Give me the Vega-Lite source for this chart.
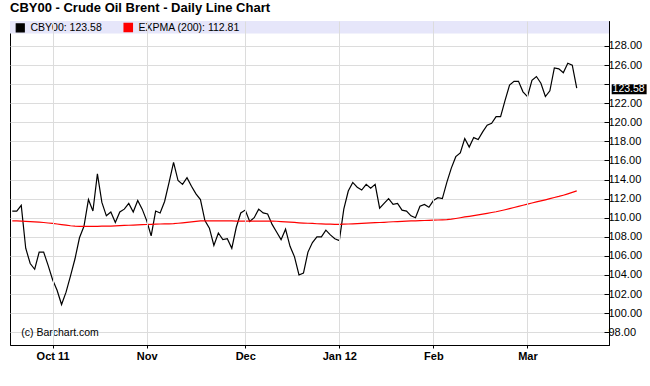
{
  "$schema": "https://vega.github.io/schema/vega-lite/v6.json",
  "width": 599,
  "height": 324,
  "autosize": {"type": "none"},
  "padding": {"left": 10, "top": 21, "right": 41, "bottom": 41},
  "background": "white",
  "title": {"text": "CBY00 - Crude Oil Brent - Daily Line Chart", "anchor": "start", "frame": "group", "fontSize": 13, "fontWeight": "bold", "font": "Liberation Sans", "color": "black", "offset": 7, "baseline": "alphabetic", "dy": 11},
  "config": {
    "view": {"stroke": "black", "strokeWidth": 1},
    "axis": {"gridColor": "#dcdcdc", "domainColor": "black", "tickColor": "black", "labelColor": "black", "labelFont": "Liberation Sans", "title": null}
  },
  "layer": [
    {
      "data": {"values": [{}]},
      "mark": {"type": "rect", "color": "#e6e6fa"},
      "encoding": {
        "x": {"datum": 0.49, "type": "quantitative"},
        "x2": {"datum": 134.2},
        "y": {"datum": 129.3, "type": "quantitative"},
        "y2": {"datum": 130.62}
      }
    },
    {
      "data": {"values": [
        {"date": "2011-09-20", "close": 110.7, "ema": 109.68},
        {"date": "2011-09-21", "close": 110.7, "ema": 109.66},
        {"date": "2011-09-22", "close": 111.3, "ema": 109.64},
        {"date": "2011-09-23", "close": 106.8, "ema": 109.62},
        {"date": "2011-09-26", "close": 105.2, "ema": 109.6},
        {"date": "2011-09-27", "close": 104.6, "ema": 109.57},
        {"date": "2011-09-28", "close": 106.4, "ema": 109.54},
        {"date": "2011-09-29", "close": 106.4, "ema": 109.5},
        {"date": "2011-09-30", "close": 105.0, "ema": 109.45},
        {"date": "2011-10-03", "close": 103.5, "ema": 109.4},
        {"date": "2011-10-04", "close": 102.4, "ema": 109.34},
        {"date": "2011-10-05", "close": 100.9, "ema": 109.28},
        {"date": "2011-10-06", "close": 102.2, "ema": 109.22},
        {"date": "2011-10-07", "close": 103.9, "ema": 109.16},
        {"date": "2011-10-10", "close": 105.7, "ema": 109.12},
        {"date": "2011-10-11", "close": 107.9, "ema": 109.1},
        {"date": "2011-10-12", "close": 109.1, "ema": 109.09},
        {"date": "2011-10-13", "close": 111.9, "ema": 109.09},
        {"date": "2011-10-14", "close": 110.7, "ema": 109.09},
        {"date": "2011-10-17", "close": 114.6, "ema": 109.1},
        {"date": "2011-10-18", "close": 111.6, "ema": 109.11},
        {"date": "2011-10-19", "close": 110.2, "ema": 109.12},
        {"date": "2011-10-20", "close": 110.6, "ema": 109.13},
        {"date": "2011-10-21", "close": 109.5, "ema": 109.15},
        {"date": "2011-10-24", "close": 110.6, "ema": 109.17},
        {"date": "2011-10-25", "close": 110.9, "ema": 109.19},
        {"date": "2011-10-26", "close": 111.5, "ema": 109.21},
        {"date": "2011-10-27", "close": 110.6, "ema": 109.23},
        {"date": "2011-10-28", "close": 111.8, "ema": 109.25},
        {"date": "2011-10-31", "close": 110.9, "ema": 109.27},
        {"date": "2011-11-01", "close": 109.7, "ema": 109.29},
        {"date": "2011-11-02", "close": 108.1, "ema": 109.3},
        {"date": "2011-11-03", "close": 110.7, "ema": 109.32},
        {"date": "2011-11-04", "close": 110.5, "ema": 109.34},
        {"date": "2011-11-07", "close": 111.7, "ema": 109.35},
        {"date": "2011-11-08", "close": 113.7, "ema": 109.36},
        {"date": "2011-11-09", "close": 115.8, "ema": 109.38},
        {"date": "2011-11-10", "close": 113.9, "ema": 109.42},
        {"date": "2011-11-11", "close": 113.5, "ema": 109.47},
        {"date": "2011-11-14", "close": 114.2, "ema": 109.52},
        {"date": "2011-11-15", "close": 113.3, "ema": 109.57},
        {"date": "2011-11-16", "close": 112.5, "ema": 109.62},
        {"date": "2011-11-17", "close": 111.9, "ema": 109.66},
        {"date": "2011-11-18", "close": 109.7, "ema": 109.68},
        {"date": "2011-11-21", "close": 108.9, "ema": 109.68},
        {"date": "2011-11-22", "close": 107.1, "ema": 109.68},
        {"date": "2011-11-23", "close": 108.4, "ema": 109.67},
        {"date": "2011-11-24", "close": 107.7, "ema": 109.67},
        {"date": "2011-11-25", "close": 107.8, "ema": 109.66},
        {"date": "2011-11-28", "close": 106.8, "ema": 109.66},
        {"date": "2011-11-29", "close": 109.0, "ema": 109.65},
        {"date": "2011-11-30", "close": 110.5, "ema": 109.65},
        {"date": "2011-12-01", "close": 110.8, "ema": 109.65},
        {"date": "2011-12-02", "close": 109.6, "ema": 109.65},
        {"date": "2011-12-05", "close": 110.0, "ema": 109.65},
        {"date": "2011-12-06", "close": 110.9, "ema": 109.65},
        {"date": "2011-12-07", "close": 110.5, "ema": 109.65},
        {"date": "2011-12-08", "close": 110.4, "ema": 109.65},
        {"date": "2011-12-09", "close": 109.3, "ema": 109.65},
        {"date": "2011-12-12", "close": 108.5, "ema": 109.63},
        {"date": "2011-12-13", "close": 107.7, "ema": 109.6},
        {"date": "2011-12-14", "close": 108.8, "ema": 109.57},
        {"date": "2011-12-15", "close": 107.0, "ema": 109.54},
        {"date": "2011-12-16", "close": 105.9, "ema": 109.51},
        {"date": "2011-12-19", "close": 104.0, "ema": 109.47},
        {"date": "2011-12-20", "close": 104.2, "ema": 109.44},
        {"date": "2011-12-21", "close": 106.4, "ema": 109.42},
        {"date": "2011-12-22", "close": 107.4, "ema": 109.4},
        {"date": "2011-12-23", "close": 108.0, "ema": 109.37},
        {"date": "2011-12-27", "close": 108.0, "ema": 109.35},
        {"date": "2011-12-28", "close": 108.7, "ema": 109.33},
        {"date": "2011-12-29", "close": 108.2, "ema": 109.32},
        {"date": "2011-12-30", "close": 107.8, "ema": 109.31},
        {"date": "2012-01-03", "close": 107.6, "ema": 109.31},
        {"date": "2012-01-04", "close": 110.9, "ema": 109.32},
        {"date": "2012-01-05", "close": 112.8, "ema": 109.34},
        {"date": "2012-01-06", "close": 113.7, "ema": 109.36},
        {"date": "2012-01-09", "close": 113.2, "ema": 109.38},
        {"date": "2012-01-10", "close": 112.9, "ema": 109.41},
        {"date": "2012-01-11", "close": 113.5, "ema": 109.43},
        {"date": "2012-01-12", "close": 113.1, "ema": 109.46},
        {"date": "2012-01-13", "close": 113.5, "ema": 109.48},
        {"date": "2012-01-16", "close": 111.0, "ema": 109.5},
        {"date": "2012-01-17", "close": 111.5, "ema": 109.52},
        {"date": "2012-01-18", "close": 112.0, "ema": 109.55},
        {"date": "2012-01-19", "close": 111.4, "ema": 109.58},
        {"date": "2012-01-20", "close": 111.5, "ema": 109.6},
        {"date": "2012-01-23", "close": 110.8, "ema": 109.62},
        {"date": "2012-01-24", "close": 110.7, "ema": 109.64},
        {"date": "2012-01-25", "close": 110.2, "ema": 109.66},
        {"date": "2012-01-26", "close": 110.0, "ema": 109.68},
        {"date": "2012-01-27", "close": 111.2, "ema": 109.69},
        {"date": "2012-01-30", "close": 111.4, "ema": 109.71},
        {"date": "2012-01-31", "close": 111.1, "ema": 109.72},
        {"date": "2012-02-01", "close": 111.8, "ema": 109.74},
        {"date": "2012-02-02", "close": 112.1, "ema": 109.76},
        {"date": "2012-02-03", "close": 112.0, "ema": 109.78},
        {"date": "2012-02-06", "close": 113.7, "ema": 109.8},
        {"date": "2012-02-07", "close": 115.2, "ema": 109.85},
        {"date": "2012-02-08", "close": 116.4, "ema": 109.92},
        {"date": "2012-02-09", "close": 116.8, "ema": 110.0},
        {"date": "2012-02-10", "close": 118.3, "ema": 110.08},
        {"date": "2012-02-13", "close": 117.4, "ema": 110.15},
        {"date": "2012-02-14", "close": 118.4, "ema": 110.22},
        {"date": "2012-02-15", "close": 118.2, "ema": 110.3},
        {"date": "2012-02-16", "close": 119.0, "ema": 110.38},
        {"date": "2012-02-17", "close": 119.7, "ema": 110.46},
        {"date": "2012-02-20", "close": 119.9, "ema": 110.55},
        {"date": "2012-02-21", "close": 120.6, "ema": 110.63},
        {"date": "2012-02-22", "close": 120.6, "ema": 110.73},
        {"date": "2012-02-23", "close": 122.3, "ema": 110.84},
        {"date": "2012-02-24", "close": 123.9, "ema": 110.95},
        {"date": "2012-02-27", "close": 124.3, "ema": 111.07},
        {"date": "2012-02-28", "close": 124.3, "ema": 111.19},
        {"date": "2012-02-29", "close": 123.2, "ema": 111.31},
        {"date": "2012-03-01", "close": 122.7, "ema": 111.43},
        {"date": "2012-03-02", "close": 124.4, "ema": 111.54},
        {"date": "2012-03-05", "close": 124.8, "ema": 111.66},
        {"date": "2012-03-06", "close": 124.1, "ema": 111.77},
        {"date": "2012-03-07", "close": 122.7, "ema": 111.88},
        {"date": "2012-03-08", "close": 123.3, "ema": 112.0},
        {"date": "2012-03-09", "close": 125.7, "ema": 112.12},
        {"date": "2012-03-12", "close": 125.6, "ema": 112.23},
        {"date": "2012-03-13", "close": 125.2, "ema": 112.36},
        {"date": "2012-03-14", "close": 126.2, "ema": 112.5},
        {"date": "2012-03-15", "close": 126.0, "ema": 112.65},
        {"date": "2012-03-16", "close": 123.58, "ema": 112.81}
      ]},
      "transform": [
        {"window": [{"op": "row_number", "as": "n"}], "sort": [{"field": "date"}]},
        {"fold": ["close", "ema"], "as": ["series", "price"]}
      ],
      "mark": {"type": "line", "strokeWidth": 1.2},
      "encoding": {
        "x": {
          "field": "n", "type": "quantitative",
          "scale": {"domain": [0.49, 134.2], "nice": false, "zero": false},
          "axis": {
            "values": [10, 31, 53, 74, 95, 116],
            "labelExpr": "['Oct 11','Nov','Dec','Jan 12','Feb','Mar'][indexof([10,31,53,74,95,116], datum.value)]",
            "grid": true, "tickSize": 3, "tickCount": 20, "labelFontSize": 11, "labelFontWeight": "bold", "labelPadding": 2, "zindex": 1
          }
        },
        "y": {
          "field": "price", "type": "quantitative",
          "scale": {"domain": [96.66, 130.62], "nice": false, "zero": false},
          "axis": {
            "orient": "right",
            "values": [98, 100, 102, 104, 106, 108, 110, 112, 114, 116, 118, 120, 122, 124, 126, 128],
            "tickCount": 40,
            "labelExpr": "datum.value == 124 ? '' : format(datum.value, '.2f')",
            "labelOverlap": false,
            "grid": true, "tickSize": -5, "labelFontSize": 11, "labelPadding": 4
          }
        },
        "color": {
          "field": "series", "type": "nominal",
          "scale": {"domain": ["close", "ema"], "range": ["#000000", "#ff0000"]},
          "legend": {
            "title": null, "orient": "none", "legendX": 5, "legendY": 1, "direction": "horizontal", "padding": 0,
            "symbolType": "square", "symbolSize": 64, "symbolStrokeWidth": 0,
            "labelFontSize": 10.5, "labelFont": "Liberation Sans", "labelColor": "black", "labelOffset": 5, "columnPadding": 19,
            "labelExpr": "datum.value == 'close' ? 'CBY00: 123.58' : 'EXPMA (200): 112.81'",
            "encode": {"symbols": {"update": {"fill": {"scale": "color", "field": "value"}, "strokeWidth": {"value": 0}}}}
          }
        },
        "strokeWidth": {"field": "series", "type": "nominal", "scale": {"domain": ["close", "ema"], "range": [1.2, 1.6]}, "legend": null}
      }
    },
    {
      "data": {"values": [{}]},
      "mark": {"type": "text", "text": "(c) Barchart.com", "align": "left", "baseline": "alphabetic", "fontSize": 10.5, "font": "Liberation Sans", "color": "black"},
      "encoding": {
        "x": {"datum": 3.0, "type": "quantitative"},
        "y": {"datum": 97.6, "type": "quantitative"}
      }
    },
    {
      "data": {"values": [{}]},
      "mark": {"type": "rect", "color": "black"},
      "encoding": {
        "x": {"datum": 134.8, "type": "quantitative"},
        "x2": {"datum": 142.6},
        "y": {"datum": 122.94, "type": "quantitative"},
        "y2": {"datum": 123.99}
      }
    },
    {
      "data": {"values": [{}]},
      "mark": {"type": "text", "text": "123.58", "align": "left", "baseline": "middle", "fontSize": 10.5, "font": "Liberation Sans", "color": "white"},
      "encoding": {
        "x": {"datum": 135.0, "type": "quantitative"},
        "y": {"datum": 123.46, "type": "quantitative"}
      }
    }
  ]
}
